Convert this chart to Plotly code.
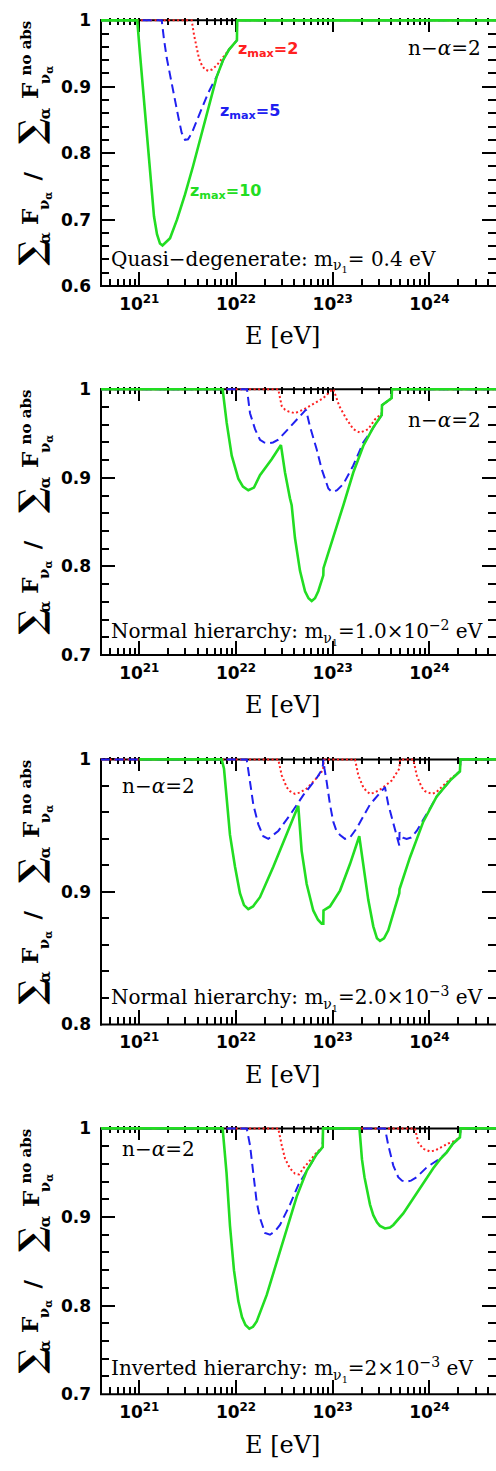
import plotly.graph_objects as go

W, H = 496, 1471

# ---------------------------------------------------------------------------
# Flux ratio sum_a F_nu_a / sum_a F_nu_a^(no abs) versus log10(E / eV)
# ---------------------------------------------------------------------------

# Quasi-degenerate, m_nu1 = 0.4 eV
qd_z10_logE = [20.60, 20.979, 21.007, 21.037, 21.065, 21.094, 21.123, 21.152, 21.183, 21.214, 21.240,
               21.318, 21.390, 21.473, 21.555, 21.638, 21.721, 21.800, 21.866, 21.928, 22.010, 22.012, 24.70]
qd_z10_ratio = [1.0, 1.0, 0.950, 0.900, 0.850, 0.800, 0.750, 0.705, 0.678, 0.664, 0.661,
                0.672, 0.700, 0.738, 0.780, 0.826, 0.872, 0.915, 0.940, 0.956, 0.970, 1.0, 1.0]
qd_z5_logE = [20.60, 21.232, 21.255, 21.283, 21.318, 21.352, 21.380, 21.403, 21.438, 21.473, 21.504,
              21.542, 21.628, 21.710, 21.762, 21.800, 21.866, 21.928, 22.010, 22.012, 24.70]
qd_z5_ratio = [1.0, 1.0, 0.972, 0.944, 0.918, 0.895, 0.872, 0.855, 0.831, 0.820, 0.821,
               0.830, 0.862, 0.890, 0.905, 0.915, 0.940, 0.956, 0.970, 1.0, 1.0]
qd_z2_logE = [20.60, 21.542, 21.566, 21.592, 21.617, 21.648, 21.679, 21.714, 21.752, 21.800, 21.835,
              21.869, 21.907, 21.928, 22.010, 22.012, 24.70]
qd_z2_ratio = [1.0, 1.0, 0.978, 0.958, 0.943, 0.932, 0.926, 0.924, 0.926, 0.932, 0.939,
               0.946, 0.952, 0.956, 0.970, 1.0, 1.0]

# Normal hierarchy, m_nu1 = 1.0e-2 eV
nh1_z10_logE = [20.60, 21.862, 21.904, 21.956, 22.024, 22.072, 22.127, 22.186, 22.248, 22.369, 22.465,
                22.507, 22.558, 22.576, 22.610, 22.662, 22.714, 22.750, 22.783, 22.817, 22.851, 22.903,
                22.905, 23.006, 23.110, 23.213, 23.316, 23.420, 23.507, 23.510, 23.610, 23.613, 24.70]
nh1_z10_ratio = [1.0, 1.0, 0.962, 0.925, 0.899, 0.890, 0.886, 0.889, 0.903, 0.921, 0.937,
                 0.906, 0.877, 0.869, 0.832, 0.795, 0.772, 0.764, 0.761, 0.764, 0.772, 0.790,
                 0.798, 0.832, 0.869, 0.906, 0.936, 0.957, 0.971, 0.982, 0.990, 1.0, 1.0]
nh1_z5_logE = [20.60, 22.114, 22.145, 22.197, 22.248, 22.290, 22.334, 22.383, 22.437, 22.541, 22.644,
               22.724, 22.765, 22.835, 22.886, 22.920, 22.955, 22.982, 23.006, 23.045, 23.110, 23.213,
               23.316, 23.386, 23.420, 23.507, 23.510, 23.610, 23.613, 24.70]
nh1_z5_ratio = [1.0, 1.0, 0.973, 0.955, 0.943, 0.940, 0.939, 0.940, 0.943, 0.955, 0.968,
                0.977, 0.958, 0.932, 0.910, 0.899, 0.888, 0.885, 0.884, 0.886, 0.893, 0.914,
                0.940, 0.951, 0.957, 0.971, 0.982, 0.990, 1.0, 1.0]
nh1_z2_logE = [20.60, 22.437, 22.473, 22.507, 22.541, 22.610, 22.696, 22.799, 22.903, 22.998, 23.008,
               23.068, 23.145, 23.213, 23.282, 23.368, 23.437, 23.489, 23.507, 23.510, 23.610, 23.613, 24.70]
nh1_z2_ratio = [1.0, 1.0, 0.981, 0.977, 0.975, 0.973, 0.977, 0.983, 0.990, 1.0, 1.0,
                0.981, 0.966, 0.955, 0.951, 0.955, 0.966, 0.971, 0.972, 0.982, 0.990, 1.0, 1.0]

# Normal hierarchy, m_nu1 = 2.0e-3 eV
nh2_z10_logE = [21.00, 21.852, 21.876, 21.904, 21.938, 21.990, 22.041, 22.083, 22.127, 22.176, 22.248,
                22.386, 22.524, 22.644, 22.679, 22.731, 22.799, 22.848, 22.886, 22.903, 22.905, 22.972,
                23.076, 23.179, 23.275, 23.316, 23.368, 23.420, 23.458, 23.489, 23.531, 23.575, 23.662,
                23.689, 23.691, 23.799, 23.937, 24.076, 24.213, 24.316, 24.322, 24.70]
nh2_z10_ratio = [1.0, 1.0, 0.993, 0.968, 0.943, 0.919, 0.899, 0.890, 0.887, 0.889, 0.896,
                 0.919, 0.943, 0.965, 0.931, 0.906, 0.886, 0.879, 0.876, 0.876, 0.886, 0.889,
                 0.901, 0.921, 0.942, 0.919, 0.894, 0.874, 0.865, 0.863, 0.865, 0.871, 0.891,
                 0.899, 0.902, 0.926, 0.953, 0.972, 0.984, 0.991, 1.0, 1.0]
nh2_z5_logE = [20.60, 22.111, 22.145, 22.179, 22.231, 22.282, 22.334, 22.437, 22.558, 22.696, 22.835,
               22.895, 22.905, 22.915, 22.938, 22.972, 23.006, 23.039, 23.076, 23.127, 23.179, 23.248,
               23.386, 23.541, 23.575, 23.627, 23.662, 23.689, 23.691, 23.727, 23.765, 23.810, 23.869,
               23.937, 24.006, 24.076, 24.213, 24.316, 24.322, 24.70]
nh2_z5_ratio = [1.0, 1.0, 0.983, 0.966, 0.951, 0.942, 0.940, 0.946, 0.958, 0.973, 0.986,
                0.993, 1.0, 0.993, 0.983, 0.966, 0.953, 0.946, 0.943, 0.940, 0.941, 0.948,
                0.966, 0.979, 0.966, 0.951, 0.941, 0.935, 0.945, 0.941, 0.940, 0.941, 0.946,
                0.955, 0.963, 0.972, 0.984, 0.991, 1.0, 1.0]
nh2_z2_logE = [20.60, 22.437, 22.473, 22.524, 22.558, 22.610, 22.662, 22.731, 22.835, 22.900, 22.910,
               23.231, 23.265, 23.316, 23.350, 23.386, 23.437, 23.507, 23.610, 23.689, 23.696, 23.834,
               23.869, 23.920, 23.955, 24.024, 24.068, 24.110, 24.195, 24.213, 24.316, 24.322, 24.70]
nh2_z2_ratio = [1.0, 1.0, 0.988, 0.979, 0.976, 0.974, 0.975, 0.978, 0.986, 0.992, 1.0,
                1.0, 0.988, 0.979, 0.976, 0.974, 0.975, 0.978, 0.984, 0.993, 1.0, 1.0,
                0.988, 0.979, 0.976, 0.974, 0.975, 0.978, 0.984, 0.985, 0.991, 1.0, 1.0]

# Inverted hierarchy, m_nu1 = 2e-3 eV
ih_z10_logE = [20.60, 21.862, 21.902, 21.938, 21.979, 22.024, 22.062, 22.098, 22.138, 22.176, 22.214,
               22.259, 22.318, 22.421, 22.524, 22.628, 22.731, 22.835, 22.897, 22.900, 23.277, 23.303,
               23.329, 23.352, 23.386, 23.420, 23.458, 23.489, 23.541, 23.593, 23.627, 23.730, 23.869,
               24.040, 24.110, 24.179, 24.245, 24.316, 24.322, 24.70]
ih_z10_ratio = [1.0, 1.0, 0.950, 0.890, 0.840, 0.805, 0.787, 0.778, 0.774, 0.776, 0.782,
                0.795, 0.812, 0.849, 0.886, 0.923, 0.952, 0.971, 0.979, 1.0, 1.0, 0.965,
                0.945, 0.932, 0.914, 0.902, 0.894, 0.890, 0.887, 0.888, 0.891, 0.904, 0.927,
                0.955, 0.965, 0.973, 0.983, 0.990, 1.0, 1.0]
ih_z5_logE = [20.60, 22.111, 22.145, 22.179, 22.214, 22.248, 22.300, 22.352, 22.403, 22.455, 22.558,
              22.644, 22.696, 22.731, 22.835, 22.897, 22.900, 23.541, 23.575, 23.627, 23.678, 23.717,
              23.765, 23.810, 23.869, 23.972, 24.040, 24.110, 24.179, 24.245, 24.316, 24.322, 24.70]
ih_z5_ratio = [1.0, 1.0, 0.981, 0.947, 0.917, 0.899, 0.882, 0.880, 0.884, 0.891, 0.914,
               0.936, 0.946, 0.952, 0.971, 0.979, 1.0, 1.0, 0.981, 0.958, 0.945, 0.941,
               0.940, 0.941, 0.945, 0.956, 0.961, 0.966, 0.973, 0.983, 0.990, 1.0, 1.0]
ih_z2_logE = [20.60, 22.437, 22.473, 22.507, 22.558, 22.610, 22.653, 22.696, 22.783, 22.835, 22.897,
              22.900, 23.851, 23.885, 23.937, 24.006, 24.058, 24.110, 24.195, 24.264, 24.316, 24.322, 24.70]
ih_z2_ratio = [1.0, 1.0, 0.981, 0.966, 0.955, 0.949, 0.948, 0.955, 0.966, 0.973, 0.979,
               1.0, 1.0, 0.984, 0.977, 0.974, 0.975, 0.978, 0.983, 0.986, 0.990, 1.0, 1.0]

# Axis ticks
x_major = [1e21, 1e22, 1e23, 1e24]
x_major_text = ["10<sup>21</sup>", "10<sup>22</sup>", "10<sup>23</sup>", "10<sup>24</sup>"]
x_minor = [m * 10.0 ** d for d in range(20, 25) for m in range(2, 10) if 4e20 <= m * 10.0 ** d <= 5e24]

panel_labels = [
    "Quasi\u2212degenerate: m<sub>\u03bd<sub>1</sub></sub>= 0.4 eV",
    "Normal hierarchy: m<sub>\u03bd<sub>1</sub></sub>=1.0\u00d710<sup>\u22122</sup> eV",
    "Normal hierarchy: m<sub>\u03bd<sub>1</sub></sub>=2.0\u00d710<sup>\u22123</sup> eV",
    "Inverted hierarchy: m<sub>\u03bd<sub>1</sub></sub>=2\u00d710<sup>\u22123</sup> eV",
]
index_label = "n\u2212<i>\u03b1</i>=2"
zmax_labels = ["z<sub>max</sub>=2", "z<sub>max</sub>=5", "z<sub>max</sub>=10"]

# ---------------------------------------------------------------------------
# Layout geometry (pixels)
# ---------------------------------------------------------------------------
X_LEFT_PX = 101.0
X_RANGE = [20.604, 24.689]
panels = [
    dict(lo=0.6, top=12.5, bottom=281.5,
         curves=[(qd_z2_logE, qd_z2_ratio), (qd_z5_logE, qd_z5_ratio), (qd_z10_logE, qd_z10_ratio)],
         label_y=256, index_pos=(483, 41, "right")),
    dict(lo=0.7, top=386.0, bottom=655.0,
         curves=[(nh1_z2_logE, nh1_z2_ratio), (nh1_z5_logE, nh1_z5_ratio), (nh1_z10_logE, nh1_z10_ratio)],
         label_y=632, index_pos=(483, 417, "right")),
    dict(lo=0.8, top=760.7, bottom=1029.0,
         curves=[(nh2_z2_logE, nh2_z2_ratio), (nh2_z5_logE, nh2_z5_ratio), (nh2_z10_logE, nh2_z10_ratio)],
         label_y=1003, index_pos=(120, 788, "left")),
    dict(lo=0.7, top=1134.3, bottom=1403.3,
         curves=[(ih_z2_logE, ih_z2_ratio), (ih_z5_logE, ih_z5_ratio), (ih_z10_logE, ih_z10_ratio)],
         label_y=1378, index_pos=(120, 1155, "left")),
]

RED, BLUE, GREEN = "#ff2020", "#2020f0", "#22dd22"
line_styles = [
    dict(color=RED, width=2, dash="2px,2.5px"),
    dict(color=BLUE, width=2, dash="9px,5px"),
    dict(color=GREEN, width=2.6),
]

TICK_FONT = dict(family="DejaVu Sans", size=17, color="black", weight="bold")
SERIF = "DejaVu Serif"
EPS_PX = 2.0


def px_x(px):
    return px / W


def px_y(py):
    return 1.0 - py / H


fig = go.Figure()
shapes = []
annotations = []

for i, p in enumerate(panels, start=1):
    xa, ya = f"x{i}", f"y{i}"
    scale = (p["bottom"] - p["top"]) / (1.0 - p["lo"])
    top_edge = p["top"] - EPS_PX
    y_range = [p["lo"], 1.0 + EPS_PX / scale]

    for (logE, ratio), style in zip(p["curves"], line_styles):
        fig.add_trace(go.Scatter(
            x=[10.0 ** v for v in logE], y=ratio, mode="lines", line=style,
            xaxis=xa, yaxis=ya, showlegend=False, hoverinfo="skip",
        ))

    n_major = int(round((1.0 - p["lo"]) / 0.1))
    y_major = [round(p["lo"] + 0.1 * k, 2) for k in range(n_major + 1)]
    y_major_text = ["1" if abs(v - 1) < 1e-9 else f"{v:.1f}" for v in y_major]
    n_minor = int(round((1.0 - p["lo"]) / 0.02))
    y_minor = [round(p["lo"] + 0.02 * k, 2) for k in range(n_minor + 1)]
    y_minor = [v for v in y_minor if all(abs(v - m) > 1e-6 for m in y_major)]

    suffix = "" if i == 1 else str(i)
    fig.layout[f"xaxis{suffix}"] = dict(
        type="log", range=X_RANGE, domain=[px_x(X_LEFT_PX), 1.0], anchor=ya,
        showline=False, mirror="ticks", showgrid=False, zeroline=False,
        ticks="inside", ticklen=14, tickwidth=2, tickcolor="black",
        tickmode="array", tickvals=x_major, ticktext=x_major_text,
        tickfont=TICK_FONT, ticklabelstandoff=6, layer="below traces",
        minor=dict(tickmode="array", tickvals=x_minor, ticks="inside", ticklen=7,
                   tickwidth=1.5, tickcolor="black", showgrid=False),
    )
    fig.layout[f"yaxis{suffix}"] = dict(
        range=y_range, domain=[px_y(p["bottom"]), px_y(top_edge)], anchor=xa,
        showline=False, mirror="ticks", showgrid=False, zeroline=False,
        ticks="inside", ticklen=14, tickwidth=2, tickcolor="black",
        tickmode="array", tickvals=y_major, ticktext=y_major_text,
        tickfont=TICK_FONT, ticklabelstandoff=9, layer="below traces",
        minor=dict(tickmode="array", tickvals=y_minor, ticks="inside", ticklen=8,
                   tickwidth=1.5, tickcolor="black", showgrid=False),
    )

    # frame: left, bottom and top (top line sits on ratio = 1)
    line = dict(color="black", width=2)
    shapes += [
        dict(type="line", xref="paper", yref="paper", x0=px_x(X_LEFT_PX), x1=px_x(X_LEFT_PX),
             y0=px_y(p["bottom"] + 1), y1=px_y(p["top"] - 1), line=line, layer="below"),
        dict(type="line", xref="paper", yref="paper", x0=px_x(X_LEFT_PX - 1), x1=1.0,
             y0=px_y(p["bottom"]), y1=px_y(p["bottom"]), line=line, layer="below"),
        dict(type="line", xref="paper", yref="paper", x0=px_x(X_LEFT_PX - 1), x1=1.0,
             y0=px_y(p["top"]), y1=px_y(p["top"]), line=line, layer="below"),
    ]

    # x-axis title
    annotations.append(dict(
        xref="paper", yref="paper", x=px_x(282), y=px_y(p["bottom"] + 51),
        text="E [eV]", showarrow=False, xanchor="center", yanchor="middle",
        font=dict(family=SERIF, size=24, color="black"),
    ))

    # panel description and spectral index
    annotations.append(dict(
        xref="paper", yref="paper", x=px_x(109), y=px_y(p["label_y"]),
        text=panel_labels[i - 1], showarrow=False, xanchor="left", yanchor="middle",
        font=dict(family=SERIF, size=20, color="black"),
    ))
    ix, iy, ianchor = p["index_pos"]
    annotations.append(dict(
        xref="paper", yref="paper", x=px_x(ix), y=px_y(iy),
        text=index_label, showarrow=False, xanchor=ianchor, yanchor="middle",
        font=dict(family=SERIF, size=20, color="black"),
    ))

    # rotated y-axis title assembled from pieces
    t = p["top"]
    pieces = [
        ("\u2211", 31, t + 235, 34),
        ("\u03b1", 45, t + 220, 15),
        ("F", 30, t + 199, 23),
        ("\u03bd<sub>\u03b1</sub>", 44, t + 183, 15),
        ("/", 31.5, t + 157.5, 23),
        ("\u2211", 31, t + 112, 34),
        ("\u03b1", 45, t + 94, 15),
        ("F", 30, t + 71.5, 23),
        ("no abs", 26, t + 28.5, 15),
        ("\u03bd<sub>\u03b1</sub>", 45.5, t + 55, 15),
    ]
    for txt, cx, cy, fs in pieces:
        annotations.append(dict(
            xref="paper", yref="paper", x=px_x(cx), y=px_y(cy), text=txt,
            showarrow=False, xanchor="center", yanchor="middle", textangle=-90,
            font=dict(family=SERIF, size=fs, color="black", weight="bold"),
        ))

# z_max labels in the first panel
for txt, color, lx, ly in zip(zmax_labels, [RED, BLUE, GREEN], [236, 218, 188], [42, 105, 186]):
    annotations.append(dict(
        xref="paper", yref="paper", x=px_x(lx), y=px_y(ly), text=txt,
        showarrow=False, xanchor="left", yanchor="middle",
        font=dict(family="DejaVu Sans", size=16, color=color, weight="bold"),
    ))

fig.update_layout(
    width=W, height=H, margin=dict(l=0, r=0, t=0, b=0),
    paper_bgcolor="white", plot_bgcolor="rgba(0,0,0,0)",
    shapes=shapes, annotations=annotations, showlegend=False,
)

fig.write_html("out.html")
